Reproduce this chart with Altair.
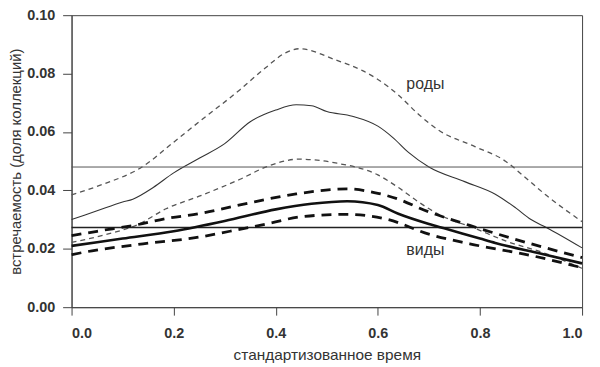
import altair as alt
import pandas as pd

# ---- data ----
genera_mean_t = [0.0, 0.05, 0.1, 0.12, 0.16, 0.2, 0.25, 0.3, 0.35, 0.4, 0.44, 0.47, 0.5, 0.55, 0.6, 0.63, 0.66, 0.7, 0.77, 0.83, 0.87, 0.9, 0.93, 1.0]
genera_mean_v = [0.030, 0.033, 0.036, 0.037, 0.041, 0.046, 0.051, 0.056, 0.0635, 0.0675, 0.0693, 0.069, 0.067, 0.0654, 0.062, 0.058, 0.053, 0.048, 0.043, 0.0387, 0.034, 0.030, 0.0273, 0.0203]

genera_hi_t = [0.0, 0.06, 0.138, 0.2, 0.25, 0.33, 0.38, 0.42, 0.445, 0.52, 0.57, 0.6, 0.64, 0.68, 0.72, 0.79, 0.85, 0.885, 0.93, 1.0]
genera_hi_v = [0.0385, 0.042, 0.048, 0.0565, 0.0635, 0.0745, 0.082, 0.0872, 0.0885, 0.0845, 0.081, 0.078, 0.0727, 0.066, 0.0605, 0.055, 0.050, 0.045, 0.0383, 0.0293]

genera_lo_t = [0.0, 0.07, 0.13, 0.185, 0.25, 0.33, 0.385, 0.445, 0.52, 0.6, 0.64, 0.68, 0.72, 0.79, 0.85, 0.93, 1.0]
genera_lo_v = [0.0222, 0.025, 0.0283, 0.0337, 0.038, 0.0438, 0.0483, 0.0507, 0.0493, 0.0453, 0.041, 0.036, 0.0317, 0.027, 0.0227, 0.0183, 0.0133]

species_mean_t = [0.0, 0.1, 0.2, 0.3, 0.4, 0.47, 0.54, 0.6, 0.64, 0.7, 0.73, 0.8, 0.83, 0.92, 1.0]
species_mean_v = [0.021, 0.0235, 0.026, 0.0295, 0.0335, 0.0354, 0.0363, 0.035, 0.032, 0.0285, 0.027, 0.0235, 0.022, 0.0183, 0.015]

species_hi_t = [0.0, 0.05, 0.13, 0.19, 0.25, 0.33, 0.44, 0.54, 0.6, 0.64, 0.69, 0.78, 0.9, 1.0]
species_hi_v = [0.0245, 0.026, 0.0283, 0.0305, 0.032, 0.035, 0.0388, 0.0405, 0.039, 0.037, 0.0333, 0.028, 0.0217, 0.017]

species_lo_t = [0.0, 0.04, 0.14, 0.25, 0.31, 0.39, 0.45, 0.54, 0.62, 0.7, 0.78, 0.9, 1.0]
species_lo_v = [0.018, 0.0193, 0.0217, 0.024, 0.026, 0.0288, 0.031, 0.0318, 0.030, 0.025, 0.0217, 0.0177, 0.0135]

genera_overall = 0.048
species_overall = 0.0273

label_text = ["роды", "виды"]
label_t = [0.693, 0.693]
label_v = [0.0763, 0.0197]

x_ticks = [0.0, 0.2, 0.4, 0.6, 0.8, 1.0]
y_ticks = [0.0, 0.02, 0.04, 0.06, 0.08, 0.10]

FONT = "Liberation Sans"

xscale = alt.Scale(domain=[0, 1], nice=False, zero=False)
yscale = alt.Scale(domain=[0, 0.1], nice=False)

xaxis = alt.Axis(values=x_ticks, format=".1f", title="стандартизованное время",
                 tickSize=8, labelPadding=12, titlePadding=7, titleFontSize=15.5)
yaxis = alt.Axis(values=y_ticks, format=".2f", title="встречаемость (доля коллекций)",
                 tickSize=9, labelPadding=8, titlePadding=3, titleFontSize=15)

X = lambda: alt.X("t:Q", scale=xscale, axis=xaxis)
Y = lambda: alt.Y("v:Q", scale=yscale, axis=yaxis)


def curve(ts, vs, color, width, dash=None):
    df = pd.DataFrame({"t": ts, "v": vs})
    kw = dict(color=color, strokeWidth=width, interpolate="monotone")
    if dash:
        kw["strokeDash"] = dash
    return alt.Chart(df).mark_line(**kw).encode(x=X(), y=Y())


rule_g = alt.Chart(pd.DataFrame({"v": [genera_overall]})).mark_rule(
    color="#555555", strokeWidth=1).encode(y=Y())
rule_s = alt.Chart(pd.DataFrame({"v": [species_overall]})).mark_rule(
    color="#222222", strokeWidth=1.6).encode(y=Y())

labels = alt.Chart(pd.DataFrame({"t": label_t, "v": label_v, "s": label_text})).mark_text(
    font=FONT, fontSize=16, color="#333333", align="center", baseline="middle"
).encode(x=X(), y=Y(), text="s:N")

chart = alt.layer(
    curve(genera_mean_t, genera_mean_v, "#333333", 1.1),
    curve(genera_hi_t, genera_hi_v, "#555555", 1.3, dash=[5, 4]),
    curve(genera_lo_t, genera_lo_v, "#555555", 1.3, dash=[5, 4]),
    rule_g,
    rule_s,
    curve(species_mean_t, species_mean_v, "#111111", 2.6),
    curve(species_hi_t, species_hi_v, "#111111", 2.8, dash=[10, 7]),
    curve(species_lo_t, species_lo_v, "#111111", 2.8, dash=[10, 7]),
    labels,
).properties(
    width=514,
    height=294,
    padding={"left": 64, "top": 6, "right": 10, "bottom": 59},
    autosize=alt.AutoSizeParams(type="none"),
).configure_view(
    stroke="#444444", strokeWidth=1
).configure_axis(
    grid=False,
    domainColor="#444444",
    tickColor="#444444",
    domainWidth=1,
    tickWidth=1,
    labelFont=FONT,
    labelFontSize=14.5,
    labelFontWeight="bold",
    labelColor="#333333",
    titleFont=FONT,
    titleFontWeight="normal",
    titleColor="#333333",
)

chart.save("out.html", embed_options={"renderer": "svg", "actions": False})
